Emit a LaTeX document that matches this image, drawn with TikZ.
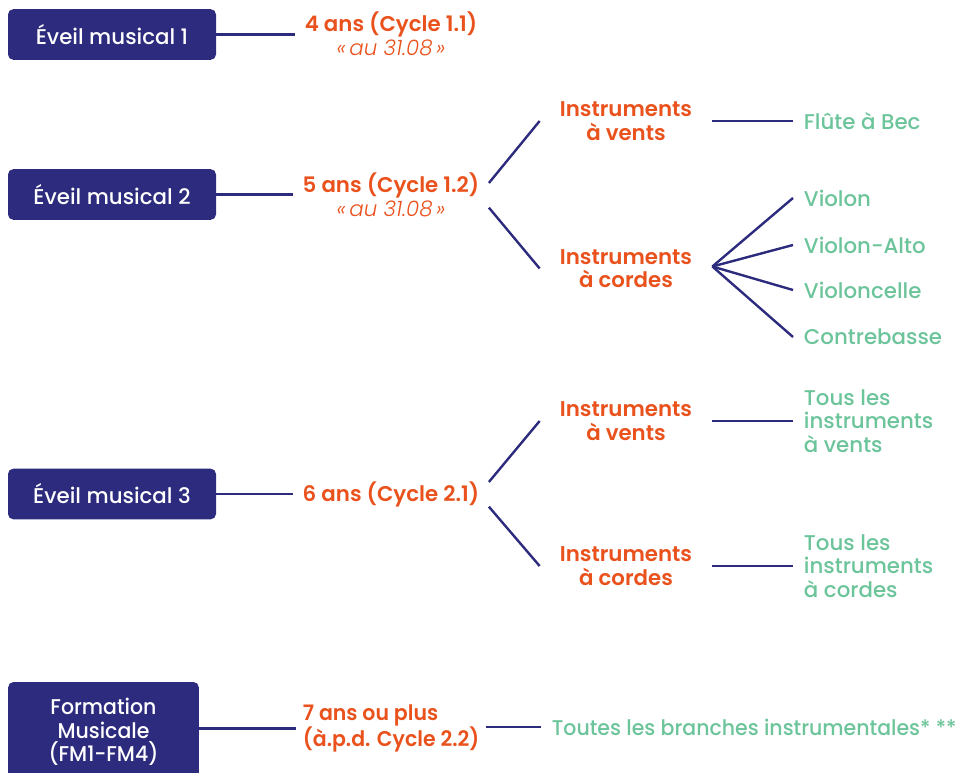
\documentclass[tikz,border=0pt]{standalone}
\usepackage{fontspec}
\setmainfont{Poppins}
\newfontfamily\semifont{Poppins SemiBold}
\newfontfamily\mediumfont{Poppins Medium}
\newfontfamily\lightfont{Poppins Light}
\newfontfamily\narrowfont[FakeStretch=0.96]{Poppins Medium}
\newfontfamily\narrowsemi[FakeStretch=0.96]{Poppins SemiBold}
\usetikzlibrary{positioning}
\definecolor{navy}{HTML}{2C2B7D}
\definecolor{rust}{HTML}{E9521D}
\definecolor{mint}{HTML}{6CC49A}
\tikzset{
	stage/.style = {
		fill=navy,
		rounded corners=4pt,
		text=white,
		font=\mediumfont\fontsize{16}{17.5}\selectfont,
		minimum width=156pt,
		minimum height=38pt,
		align=center
	},
	age/.style = {
		text=rust,
		font=\semifont\fontsize{16}{18.5}\selectfont,
		inner xsep=7pt,
		align=center
	},
	family/.style = {
		age,
		font=\semifont\fontsize{16}{17.5}\selectfont,
		inner xsep=15pt
	},
	instr/.style = {
		text=mint,
		font=\mediumfont\fontsize{16}{17.5}\selectfont,
		inner xsep=8pt,
		anchor=west,
		align=left
	},
	link/.style = {
		draw=navy,
		line width=1.8pt
	}
}
\newcommand{\dated}{\\{\lightfont\itshape «\,au 31.08\,»}}

\begin{document}
\begin{tikzpicture}[x=0.75pt,y=-0.75pt]
	\useasboundingbox (0,0) rectangle (966,773);
	% Eveil musical 1
	\node[stage] (eveil1) at (112,34.5) {Éveil musical 1};
	\node[age] (age1) at (391,34) {4 ans (Cycle 1.1)\dated};
	\draw[link] (eveil1.east) -- (eveil1.east -| age1.west);
	
	% Eveil musical 2
	\node[stage] (eveil2) at (112,194.5) {Éveil musical 2};
	\node[age] (age2) at (391,195) {5 ans (Cycle 1.2)\dated};
	\draw[link] (eveil2.east) -- (eveil2.east -| age2.west);
	\node[family] (vents2) at (626,121) {Instruments\\à vents};
	\node[family] (cordes2) at (626,268.5) {Instruments\\à cordes};
	\draw[link] ([yshift=9pt]age2.east) -- (vents2.west);
	\draw[link] ([yshift=-9.5pt]age2.east) -- (cordes2.west);
	\node[instr] (flute) at (793,121) {Flûte à Bec};
	\draw[link] (vents2.east) -- (flute.west);
	\node[instr] (violon) at (793,198) {Violon};
	\node[instr] (alto) at (793,245) {Violon-Alto};
	\node[instr] (cello) at (793,290) {Violoncelle};
	\node[instr] (basse) at (793,337) {Contrebasse};
	\foreach \n in {violon,alto,cello,basse}
		\draw[link] ([yshift=1.5pt]cordes2.east) -- (\n.west);
	
	% Eveil musical 3
	\node[stage] (eveil3) at (112,494) {Éveil musical 3};
	\node[age] (age3) at (391,494) {6 ans (Cycle 2.1)};
	\draw[link] (eveil3.east) -- (age3.west);
	\node[family] (vents3) at (626,421) {Instruments\\à vents};
	\node[family] (cordes3) at (626,566) {Instruments\\à cordes};
	\draw[link] ([yshift=9pt]age3.east) -- (vents3.west);
	\draw[link] ([yshift=-9.5pt]age3.east) -- (cordes3.west);
	\node[instr] (tousvents) at (793,421) {Tous les\\instruments\\à vents};
	\node[instr] (touscordes) at (793,566) {Tous les\\instruments\\à cordes};
	\draw[link] (vents3.east) -- (tousvents.west);
	\draw[link] (cordes3.east) -- (touscordes.west);
	
	% Formation musicale
	\node[stage, minimum width=143pt, minimum height=75pt,
		font=\narrowfont\fontsize{16}{17.5}\selectfont] (fm) at (103.5,732)
		{Formation\\Musicale\\(FM1-FM4)};
	\node[age, anchor=west, align=left, inner xsep=5pt,
		font=\narrowsemi\fontsize{16}{17.5}\selectfont] (age4) at (296,728.5)
		{7 ans ou plus\\(à.p.d. Cycle 2.2)};
	\draw[link] (fm.east |- age4.west) -- (age4.west);
	\node[instr, font=\narrowfont\fontsize{16}{17.5}\selectfont] (toutes) at (541,727)
		{Toutes les branches instrumentales* **};
	\draw[link] (age4.east |- toutes.west) -- (toutes.west);
\end{tikzpicture}
\end{document}
